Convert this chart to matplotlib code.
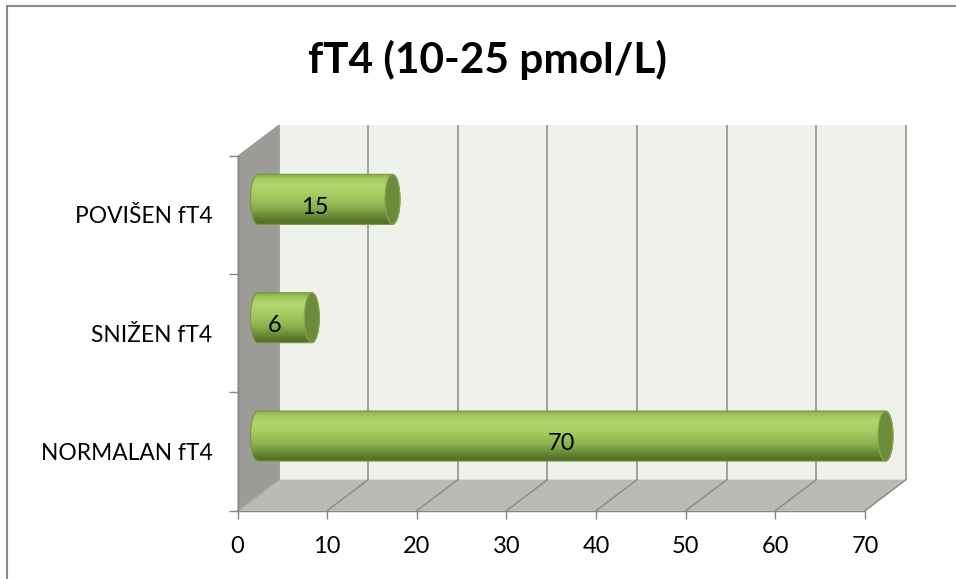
import numpy as np
import matplotlib
matplotlib.use("Agg")
import matplotlib.pyplot as plt
from matplotlib.colors import LinearSegmentedColormap
from matplotlib.patches import Polygon, Ellipse, Rectangle

# data
categories = ["NORMALAN fT4", "SNIŽEN fT4", "POVIŠEN fT4"]
values = [70, 6, 15]
x_ticks = [0, 10, 20, 30, 40, 50, 60, 70]
title = "fT4 (10-25 pmol/L)"

# layout (pixels, from the top-left corner of the picture)
W, H, DPI = 956, 579, 100
X0, X1 = 237.5, 865.0          # front plane: value 0 and value 70
YB, YT = 510.7, 155.7          # front plane: bottom and top
DX_PX, DY_PX = 41, 31          # depth of the 3-D box

XMAX = x_ticks[-1]
ncat = len(categories)
ppu = (X1 - X0) / XMAX         # px per value unit
ppc = (YB - YT) / ncat         # px per category
ddx, ddy = DX_PX / ppu, DY_PX / ppc

FONT = ["Lato", "DejaVu Sans"]
plt.rcParams["font.family"] = FONT
LABEL_SIZE = 17

GRID = "#8c8c8c"
bar_cmap = LinearSegmentedColormap.from_list("cyl", [
    (0.00, "#4f6925"), (0.12, "#62802f"), (0.35, "#8fb350"),
    (0.60, "#a6cc62"), (0.78, "#b3d66e"), (0.92, "#a3c85f"), (1.00, "#88a94a")])

fig = plt.figure(figsize=(W / DPI, H / DPI), dpi=DPI)

# border of the chart area (only top/left visible in the picture)
fig.patches.append(Rectangle((7 / W, -0.05), 1.0, (H - 6) / H + 0.05,
                             transform=fig.transFigure, fill=False,
                             edgecolor="#8a8a8a", lw=1.5))

ax = fig.add_axes([0, 0, 1, 1])
ax.axis("off")

# back wall
ax.add_patch(Rectangle((ddx, -0.5 + ddy), XMAX, ncat, facecolor="#eff1eb",
                       edgecolor="none", zorder=1))
# floor
ax.add_patch(Polygon([(0, -0.5), (XMAX, -0.5), (XMAX + ddx, -0.5 + ddy),
                      (ddx, -0.5 + ddy)], closed=True, facecolor="#b9bbb5",
                     edgecolor="none", zorder=1))
# gridlines on back wall and floor
for v in x_ticks:
    ax.plot([v + ddx, v + ddx], [-0.5 + ddy, ncat - 0.5 + ddy], color=GRID,
            lw=1.1, zorder=2, solid_capstyle="butt")
    ax.plot([v, v + ddx], [-0.5, -0.5 + ddy], color=GRID, lw=1.1, zorder=2)
# side wall
ax.add_patch(Polygon([(0, -0.5), (0, ncat - 0.5), (ddx, ncat - 0.5 + ddy),
                      (ddx, -0.5 + ddy)], closed=True, facecolor="#9b9c98",
                     edgecolor="none", zorder=3))
ax.plot([0, ddx], [-0.5, -0.5 + ddy], color="#a8aaa5", lw=0.8, zorder=3)


def cylinder(x_end, yc, hh, a):
    x_start = ddx / 2
    t = np.linspace(np.pi / 2, 3 * np.pi / 2, 40)
    left = np.column_stack([x_start + a * np.cos(t), yc + hh * np.sin(t)])
    t2 = np.linspace(-np.pi / 2, np.pi / 2, 40)
    right = np.column_stack([x_end + a * np.cos(t2), yc + hh * np.sin(t2)])
    body = Polygon(np.vstack([left, right]), closed=True, facecolor="none",
                   edgecolor="#78963f", lw=0.8, zorder=5)
    ax.add_patch(body)
    grad = np.linspace(0, 1, 256).reshape(-1, 1)
    im = ax.imshow(grad, cmap=bar_cmap, origin="lower", aspect="auto",
                   extent=[x_start - a, x_end + a, yc - hh, yc + hh],
                   interpolation="bilinear", zorder=4)
    im.set_clip_path(body)
    ax.add_patch(Ellipse((x_end, yc), 2 * a, 2 * hh, facecolor="#6d8c3b",
                         edgecolor="#88a74d", lw=0.8, zorder=6))


hh = 25 / ppc
a = 7.5 / ppu
for i, v in enumerate(values):
    cylinder(v + ddx / 2, i + ddy / 2, hh, a)
    ax.text(v / 2 + ddx / 4, i + ddy / 4, str(v), ha="center", va="center",
            fontsize=LABEL_SIZE, color="black", zorder=7)

ax.set_xlim(-X0 / ppu, (W - X0) / ppu)
ax.set_ylim(-0.5 - (H - YB) / ppc, -0.5 + YB / ppc)

# front axes: ticks and labels
axf = fig.add_axes([X0 / W, (H - YB) / H, (X1 - X0) / W, (YB - YT) / H])
axf.patch.set_alpha(0)
axf.set_xlim(0, XMAX)
axf.set_ylim(-0.5, ncat - 0.5)
for s in ("top", "right"):
    axf.spines[s].set_visible(False)
for s in ("left", "bottom"):
    axf.spines[s].set_color("#868686")
    axf.spines[s].set_linewidth(1.0)
axf.set_xticks(x_ticks)
axf.set_yticks(range(ncat))
axf.set_yticklabels(categories)
axf.set_yticks(np.arange(-0.5, ncat), minor=True)
axf.tick_params(axis="y", which="major", length=0, pad=18, labelsize=16.4)
axf.tick_params(axis="y", which="minor", length=6.5, width=1, color="#868686")
axf.tick_params(axis="x", length=5.8, width=1, color="#868686", pad=12.5,
                labelsize=LABEL_SIZE)

fig.text(487 / W, 1 - 60 / H, title, ha="center", va="center",
         fontsize=30.5, fontweight="bold")

fig.savefig("out.png", dpi=DPI)
